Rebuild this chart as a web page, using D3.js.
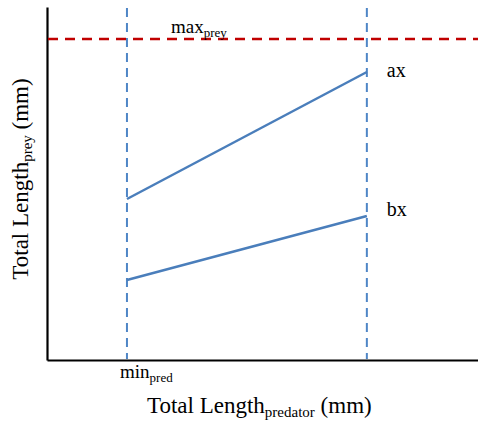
<!DOCTYPE html>
<html>
<head>
<meta charset="utf-8">
<script src="https://cdn.jsdelivr.net/npm/d3@7"></script>
<style>
body { margin: 0; background: #fff; }
text { font-family: "Liberation Serif", "Times New Roman", serif; fill: #000; }
</style>
</head>
<body>
<svg width="478" height="426"></svg>
<script>
// конечные точки линий ax и bx (длина хищника, длина жертвы)
var predBounds = [100, 400];
var axLine = [161, 288];
var bxLine = [80, 144];
var maxPrey = 321;
var lineNames = ["ax", "bx"];

var width = 478;
var height = 426;
var xLeft = 47;
var yBottom = 360;
var yTop = 7;
var labelShift = [5, 0];

var svg = d3.select("svg");

var x = d3.scaleLinear().domain([0, 539]).range([xLeft, width]);
var y = d3.scaleLinear().domain([0, 353]).range([yBottom, yTop]);

//оси без делений
svg.append("g")
    .attr("transform", "translate(0," + yBottom + ")")
    .call(d3.axisBottom(x).tickValues([]).tickSizeOuter(0))
    .select(".domain").attr("stroke", "black").attr("stroke-width", 2.2);

svg.append("g")
    .attr("transform", "translate(" + xLeft + ",0)")
    .call(d3.axisLeft(y).tickValues([]).tickSizeOuter(0))
    .select(".domain").attr("stroke", "black").attr("stroke-width", 2.2);

//вертикальные пунктирные линии
predBounds.forEach(function(p) {
    svg.append("line")
        .attr("x1", x(p)).attr("x2", x(p))
        .attr("y1", 8).attr("y2", yBottom - 1)
        .attr("stroke", "#4f86c6")
        .attr("stroke-width", 2)
        .attr("stroke-dasharray", "9,6");
});

//максимум жертвы
svg.append("line")
    .attr("x1", xLeft + 1).attr("x2", width)
    .attr("y1", y(maxPrey)).attr("y2", y(maxPrey))
    .attr("stroke", "#c00000")
    .attr("stroke-width", 2.5)
    .attr("stroke-dasharray", "10,7");

var lines = [axLine, bxLine];
lines.forEach(function(l, i) {
    svg.append("path")
        .attr("d", "M" + x(predBounds[0]) + " " + y(l[0]) + " L" + x(predBounds[1]) + " " + y(l[1]))
        .attr("stroke", "#4a7ebb")
        .attr("stroke-width", 2.5)
        .attr("fill", "none");

    svg.append("text")
        .attr("x", x(predBounds[1]) + 20)
        .attr("y", y(l[1]) + labelShift[i])
        .style("font-size", "20px")
        .text(lineNames[i]);
});

function subText(t, main, sub, rest, subSize) {
    t.append("tspan").text(main);
    t.append("tspan").attr("dy", 4).style("font-size", subSize + "px").text(sub);
    if (rest != null)
        t.append("tspan").attr("dy", -4).text(rest);
}

var maxLabel = svg.append("text").attr("x", 171).attr("y", 33).style("font-size", "19px");
subText(maxLabel, "max", "prey", null, 13);

var minLabel = svg.append("text").attr("x", 120).attr("y", 378).style("font-size", "19px");
subText(minLabel, "min", "pred", null, 13);

var xTitle = svg.append("text").attr("x", 147).attr("y", 413).style("font-size", "23px");
subText(xTitle, "Total Length", "predator", " (mm)", 15);

var yTitle = svg.append("text")
    .attr("transform", "translate(28,179) rotate(-90)")
    .attr("text-anchor", "middle")
    .style("font-size", "23px");
subText(yTitle, "Total Length", "prey", " (mm)", 15);
</script>
</body>
</html>
